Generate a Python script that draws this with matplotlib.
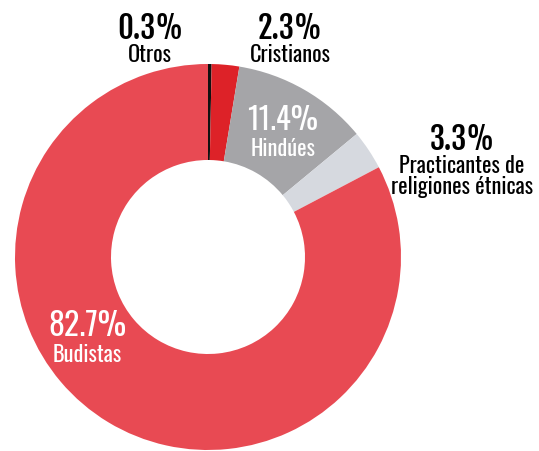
import matplotlib
matplotlib.use('Agg')
import matplotlib.pyplot as plt

# share of population by religion (%)
labels = ['Otros', 'Cristianos', 'Hindúes', 'Practicantes de\nreligiones étnicas', 'Budistas']
values = [0.3, 2.3, 11.4, 3.3, 82.7]
colors = ['#111111', '#dd2228', '#a5a5a8', '#d6d9df', '#e84a53']

W, H = 539, 452
fig = plt.figure(figsize=(W / 100, H / 100), dpi=100)
ax = fig.add_axes([0, 0, 1, 1])

cx, cy = 208, H - 258
R = 193
ax.pie(values, colors=colors, startangle=90, counterclock=False,
       center=(cx, cy), radius=R, frame=True,
       wedgeprops=dict(width=96, linewidth=0))
ax.set_xlim(0, W)
ax.set_ylim(0, H)
ax.set_aspect('equal')
ax.axis('off')

def label(x, y, pct, name, color, pct_font='Fjalla One', pct_size=22, name_size=16, gap=15):
    # y is the middle of the percentage in pixels from the top
    ax.text(x, H - y, pct, ha='center', va='center', color=color,
            fontsize=pct_size, family=pct_font)
    ax.text(x, H - y - gap, name, ha='center', va='top', color=color,
            fontsize=name_size, family='Oswald', linespacing=0.95)

label(150, 29, f'{values[0]}%', labels[0], 'black')
label(290, 29, f'{values[1]}%', labels[1], 'black')
label(283, 120, f'{values[2]}%', labels[2], 'white', pct_font='Oswald', pct_size=22, gap=18)
label(462, 140, f'{values[3]}%', labels[3], 'black')
label(87, 326, f'{values[4]}%', labels[4], 'white', pct_font='Oswald', pct_size=23, gap=18)

fig.savefig('out.png', dpi=100, facecolor='white')
